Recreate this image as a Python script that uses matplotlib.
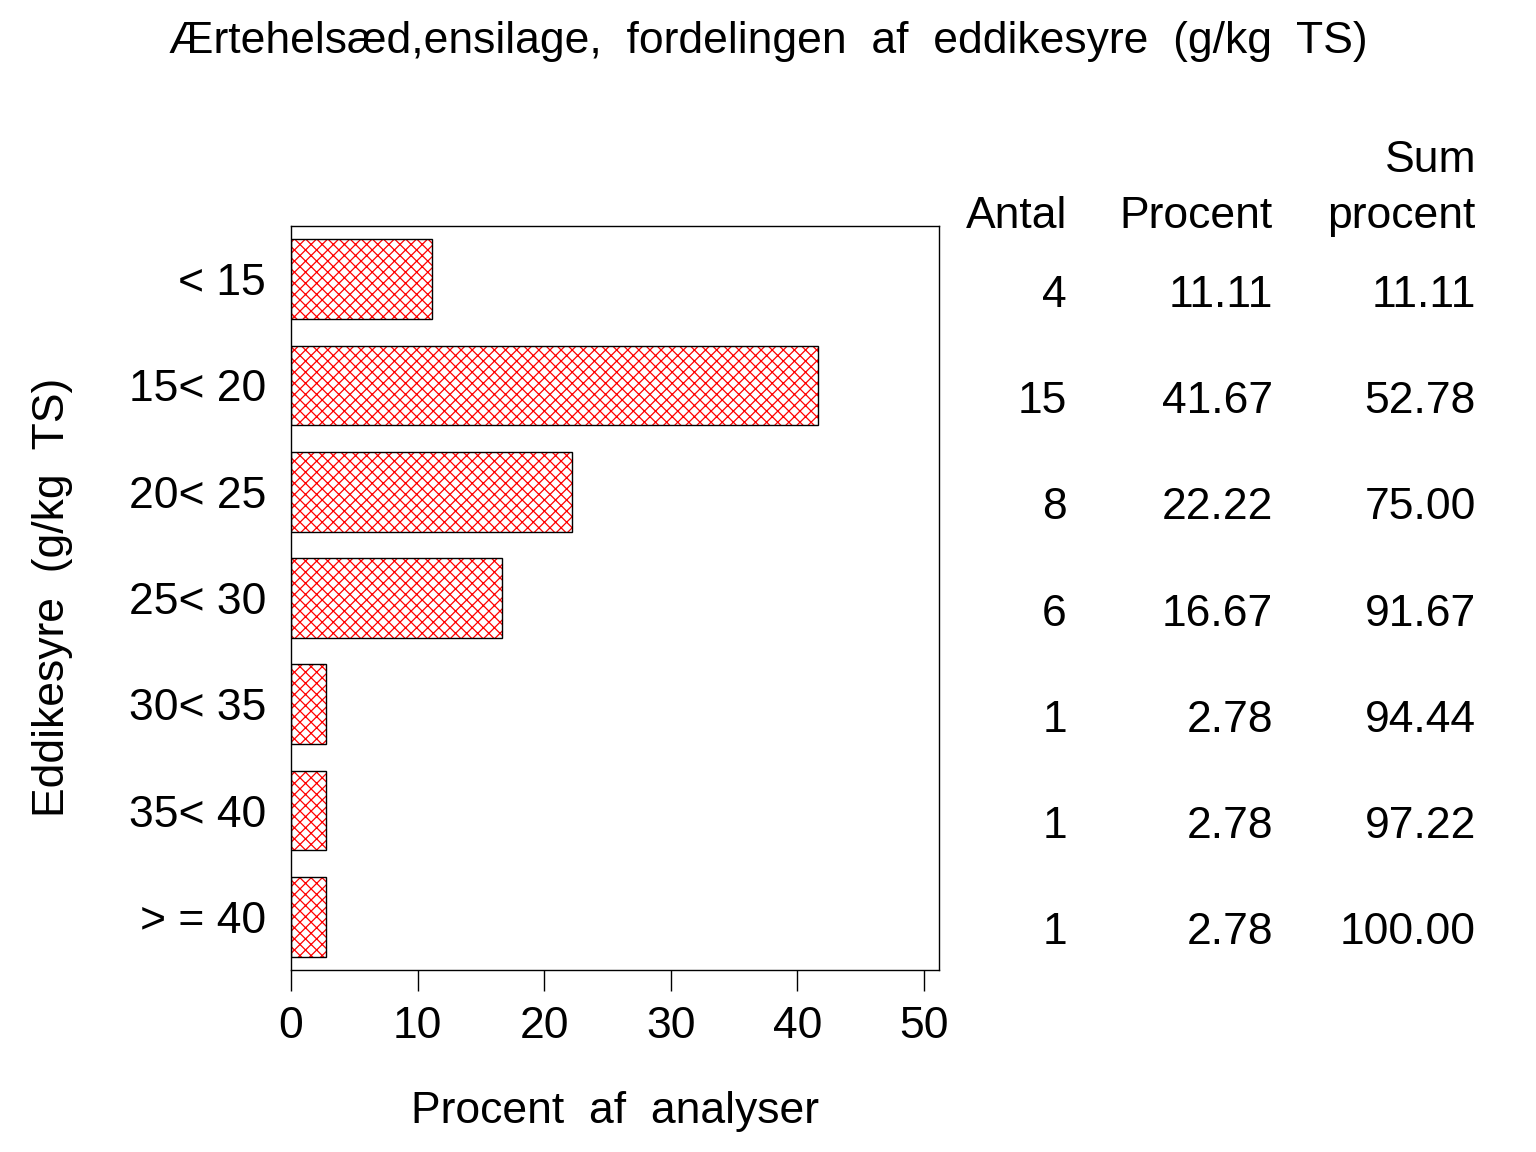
import matplotlib
matplotlib.use("Agg")
import matplotlib.pyplot as plt
import matplotlib.transforms as mtransforms

# ---- data ----
categories = ["< 15", "15< 20", "20< 25", "25< 30", "30< 35", "35< 40", "> = 40"]
antal = [4, 15, 8, 6, 1, 1, 1]
procent = [11.11, 41.67, 22.22, 16.67, 2.78, 2.78, 2.78]
sum_procent = [11.11, 52.78, 75.00, 91.67, 94.44, 97.22, 100.00]
x_ticks = [0, 10, 20, 30, 40, 50]

title = "Ærtehelsæd,ensilage,  fordelingen  af  eddikesyre  (g/kg  TS)"
xlabel = "Procent  af  analyser"
ylabel = "Eddikesyre  (g/kg  TS)"

plt.rcParams["font.family"] = ["Liberation Sans", "DejaVu Sans"]
plt.rcParams["hatch.linewidth"] = 0.9
FS = 32

W, H = 1536, 1152
fig = plt.figure(figsize=(W / 100, H / 100), dpi=100)
ax = fig.add_axes([291 / W, 1 - 970 / H, (939 - 291) / W, (970 - 226) / H])

ypos = list(range(len(categories)))
ax.barh(ypos, procent, height=0.75, color="white", edgecolor="red",
        hatch="xxx", linewidth=0)
ax.barh(ypos, procent, height=0.75, color="none", edgecolor="black",
        linewidth=1.0)

ax.set_xlim(0, 51.2)
ax.set_ylim(len(categories) - 0.5, -0.5)
ax.set_xticks(x_ticks)
ax.set_xticklabels([str(t) for t in x_ticks], fontsize=FS)
ax.set_yticks(ypos)
ax.set_yticklabels(categories, fontsize=FS)
ax.tick_params(axis="y", length=0, pad=18)
ax.tick_params(axis="x", length=15, width=1.0, direction="out", pad=11)
for s in ax.spines.values():
    s.set_linewidth(1.0)

fig.text(615 / W, 1 - 1112 / H, xlabel, fontsize=FS, ha="center", va="center")
fig.text(53 / W, 1 - 597 / H, ylabel, fontsize=FS, ha="center", va="center",
         rotation=90)
fig.text(768 / W, 1 - 41 / H, title, fontsize=FS, ha="center", va="center")

# table on the right
col_x = [1067 / W, 1273 / W, 1476 / W]
base = 1 - 228 / H
fig.text(col_x[0], base, "Antal", fontsize=FS, ha="right", va="baseline")
fig.text(col_x[1], base, "Procent", fontsize=FS, ha="right", va="baseline")
fig.text(col_x[2], base, "procent", fontsize=FS, ha="right", va="baseline")
fig.text(col_x[2], 1 - 172 / H, "Sum", fontsize=FS, ha="right", va="baseline")

tr = mtransforms.blended_transform_factory(fig.transFigure, ax.transData)
for i in ypos:
    yy = i + 0.26
    ax.text(col_x[0], yy, f"{antal[i]}", transform=tr, fontsize=FS,
            ha="right", va="baseline", clip_on=False)
    ax.text(col_x[1], yy, f"{procent[i]:.2f}", transform=tr, fontsize=FS,
            ha="right", va="baseline", clip_on=False)
    ax.text(col_x[2], yy, f"{sum_procent[i]:.2f}", transform=tr, fontsize=FS,
            ha="right", va="baseline", clip_on=False)

fig.savefig("out.png", dpi=100)
